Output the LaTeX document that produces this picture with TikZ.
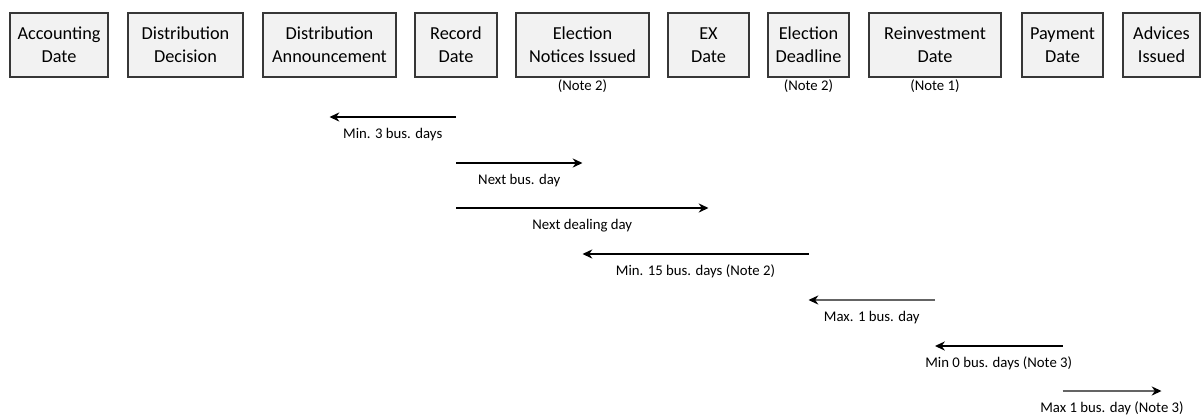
\documentclass[tikz,border=0pt]{standalone}
\usepackage{fontspec}
\setmainfont{Carlito}
\usetikzlibrary{arrows.meta, positioning}
\definecolor{boxfill}{RGB}{242,242,242}
\definecolor{boxline}{RGB}{55,55,55}
\definecolor{greyline}{RGB}{100,100,100}
\tikzstyle{event} = [draw=boxline,fill=boxfill,line width=1.3pt,minimum height=1.6cm,align=center,inner sep=1pt,font=\fontsize{13}{16.5}\selectfont]
\tikzstyle{note} = [font=\fontsize{10.5}{12}\selectfont]
\tikzstyle{dur} = [line width=1.1pt,-{Stealth[length=7pt,width=6.5pt,color=black]}]
\tikzstyle{greydur} = [dur,draw=greyline]
\tikzstyle{durlabel} = [midway,below=4pt,font=\fontsize{10.5}{12}\selectfont]

\begin{document}
\begin{tikzpicture}[x=0.025cm,y=-0.025cm,node distance=1.03cm]
  \useasboundingbox (0,0) rectangle (1202,416);
  % event boxes
  \node (acc) [event,minimum width=2.45cm]  at (59,45)     {Accounting\\Date};
  \node (dec) [event,minimum width=2.875cm] at (185.5,45)  {Distribution\\Decision};
  \node (ann) [event,minimum width=3.325cm] at (329.5,45)  {Distribution\\Announcement};
  \node (rec) [event,minimum width=2.05cm]  at (456,45)    {Record\\Date};
  \node (eni) [event,minimum width=3.325cm] at (582.5,45)  {Election\\Notices Issued};
  \node (exd) [event,minimum width=2.025cm] at (708.5,45)  {EX\\Date};
  \node (eld) [event,minimum width=2.025cm] at (808.5,45)  {Election\\Deadline};
  \node (rei) [event,minimum width=3.3cm]   at (935,45)    {Reinvestment\\Date};
  \node (pay) [event,minimum width=2.025cm] at (1062.5,45) {Payment\\Date};
  \node (adv) [event,minimum width=1.925cm] at (1161.5,45) {Advices\\Issued};
  \node (n1) [note,below of=eni] {(Note 2)};
  \node (n2) [note,below of=eld] {(Note 2)};
  \node (n3) [note,below of=rei] {(Note 1)};
  % rows of the time lines
  \coordinate (r1) at (0,117);
  \coordinate (r2) at (0,163);
  \coordinate (r3) at (0,208);
  \coordinate (r4) at (0,254);
  \coordinate (r5) at (0,300);
  \coordinate (r6) at (0,346);
  \coordinate (r7) at (0,391);
  \draw [dur] (r1 -| rec) -- node [durlabel] {Min. 3 bus. days} (r1 -| ann);
  \draw [dur] (r2 -| rec) -- node [durlabel] {Next bus. day} (r2 -| eni);
  \draw [dur] (r3 -| rec) -- node [durlabel] {Next dealing day} (r3 -| exd);
  \draw [dur] (r4 -| eld) -- node [durlabel] {Min. 15 bus. days (Note 2)} (r4 -| eni);
  \draw [greydur] (r5 -| rei) -- node [durlabel] {Max. 1 bus. day} (r5 -| eld);
  \draw [dur] (r6 -| pay) -- node [durlabel] {Min 0 bus. days (Note 3)} (r6 -| rei);
  \draw [greydur] (r7 -| pay) -- node [durlabel] {Max 1 bus. day (Note 3)} (r7 -| adv);
\end{tikzpicture}
\end{document}
